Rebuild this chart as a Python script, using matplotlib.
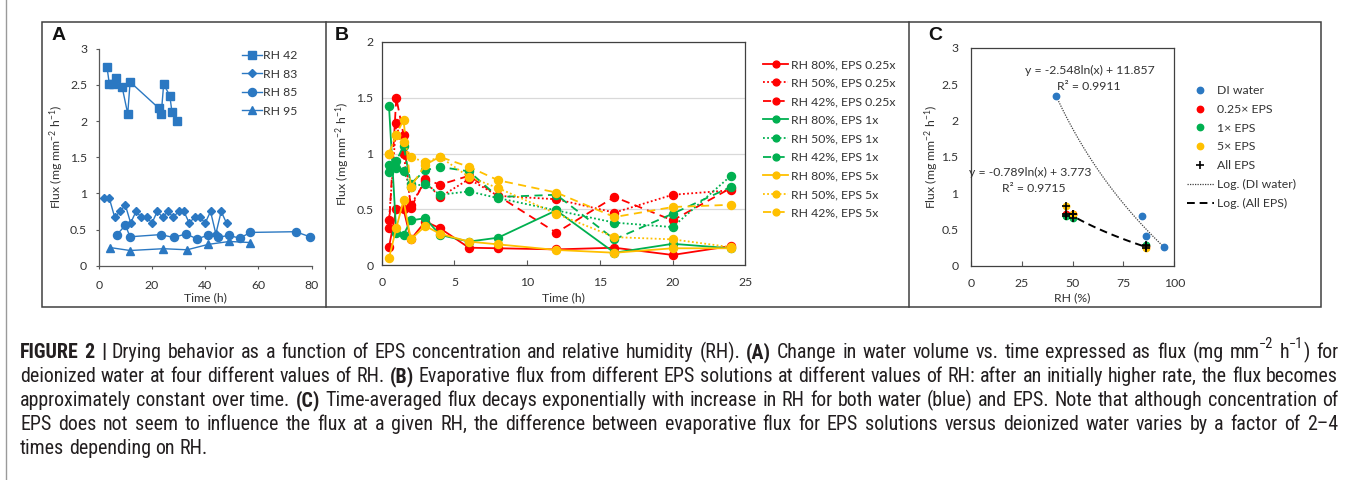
import matplotlib
matplotlib.use('Agg')
import matplotlib.pyplot as plt
from matplotlib import font_manager
from matplotlib.patches import Rectangle
from matplotlib.lines import Line2D
import numpy as np

W, H = 1355, 480

# ---------------- Panel A data (DI water, flux vs time) ----------------
a_rh42_time = [3.1, 4.0, 5.5, 6.4, 8.8, 10.9, 11.8, 22.5, 23.5, 24.4, 26.7, 27.5, 29.4]
a_rh42_flux = [2.75, 2.51, 2.51, 2.59, 2.47, 2.10, 2.54, 2.18, 2.10, 2.51, 2.35, 2.13, 2.00]
a_rh83_time = [2, 4, 6, 8, 10, 12, 14, 16, 18, 20, 22, 24, 26, 28, 30, 32, 34, 36, 38, 40, 42, 44, 46, 48]
a_rh83_flux = [0.93, 0.93, 0.67, 0.75, 0.84, 0.59, 0.75, 0.67, 0.67, 0.59, 0.75, 0.67,
               0.75, 0.67, 0.75, 0.75, 0.59, 0.67, 0.67, 0.59, 0.75, 0.44, 0.75, 0.59]
a_rh85_time = [6.9, 10.0, 11.8, 23.3, 28.1, 32.8, 36.9, 40.9, 44.7, 48.8, 53.0, 56.9, 74.0, 79.3]
a_rh85_flux = [0.43, 0.56, 0.40, 0.43, 0.39, 0.44, 0.37, 0.42, 0.39, 0.42, 0.38, 0.46, 0.47, 0.40]
a_rh95_time = [4.4, 11.8, 24.3, 33.2, 41.2, 49.1, 57.0]
a_rh95_flux = [0.25, 0.21, 0.235, 0.22, 0.295, 0.335, 0.32]
a_labels = ['RH 42', 'RH 83', 'RH 85', 'RH 95']

# ---------------- Panel B data (EPS solutions, flux vs time) ----------------
b_time = [0.5, 1, 1.5, 2, 3, 4, 6, 8, 12, 16, 20, 24]
b_r80 = [0.16, 0.50, 0.50, 0.23, 0.39, 0.33, 0.155, 0.15, 0.14, 0.155, 0.09, 0.17]
b_r50 = [0.40, 1.27, 1.00, 0.54, 0.75, 0.61, 0.77, 0.62, 0.59, 0.47, 0.63, 0.67]
b_r42 = [0.33, 1.50, 1.17, 0.51, 0.77, 0.72, 0.80, 0.62, 0.29, 0.61, 0.40, 0.69]
b_g80 = [1.43, 0.29, 0.27, 0.40, 0.42, 0.27, 0.21, 0.245, 0.49, 0.11, 0.19, 0.15]
b_g50 = [0.83, 0.87, 0.84, 0.70, 0.73, 0.63, 0.66, 0.60, 0.49, 0.38, 0.34, 0.80]
b_g42 = [0.90, 0.93, 1.07, 0.73, 0.85, 0.88, 0.84, 0.61, 0.63, 0.23, 0.46, 0.70]
b_y80 = [0.06, 0.33, 0.58, 0.23, 0.35, 0.28, 0.21, 0.185, 0.135, 0.11, 0.15, 0.15]
b_y50 = [1.00, 1.17, 1.10, 0.97, 0.92, 0.97, 0.79, 0.69, 0.46, 0.25, 0.23, 0.16]
b_y42 = [1.00, 1.17, 1.30, 0.70, 0.90, 0.97, 0.88, 0.76, 0.65, 0.43, 0.52, 0.54]
b_labels = ['RH 80%, EPS 0.25x', 'RH 50%, EPS 0.25x', 'RH 42%, EPS 0.25x',
            'RH 80%, EPS 1x', 'RH 50%, EPS 1x', 'RH 42%, EPS 1x',
            'RH 80%, EPS 5x', 'RH 50%, EPS 5x', 'RH 42%, EPS 5x']

# ---------------- Panel C data (time-averaged flux vs RH) ----------------
c_di_rh = [42.1, 84.2, 86.3, 94.9]
c_di_flux = [2.33, 0.69, 0.41, 0.26]
c_e025_rh = [46.9, 50.2, 86.3]
c_e025_flux = [0.71, 0.71, 0.27]
c_e1_rh = [46.9, 50.2, 86.3]
c_e1_flux = [0.69, 0.66, 0.285]
c_e5_rh = [46.9, 50.2, 86.3]
c_e5_flux = [0.825, 0.71, 0.25]
c_fit_di = (-2.548, 11.857)     # y = a ln(x) + b, from chart annotation
c_fit_eps = (-0.789, 3.773)
c_labels = ['DI water', '0.25\u00d7 EPS', '1\u00d7 EPS', '5\u00d7 EPS', 'All EPS',
            'Log. (DI water)', 'Log. (All EPS)']

# ---------------- styling ----------------
BLUE = '#2B78C2'
RED = '#FF0000'
GREEN = '#00B050'
YELLOW = '#FFC000'
TXT = '#333333'
CAPC = '#231F20'
FRAME = '#404040'


def have(name):
    try:
        font_manager.findfont(font_manager.FontProperties(family=name), fallback_to_default=False)
        return True
    except Exception:
        return False


CHART_FONT = 'Lato' if have('Lato') else 'DejaVu Sans'
CAP_FONT = next(f for f in ['Liberation Sans Narrow', 'Roboto Condensed', 'Liberation Sans', 'DejaVu Sans'] if have(f))

plt.rcParams['font.family'] = [CHART_FONT, 'DejaVu Sans']
plt.rcParams['mathtext.fontset'] = 'custom'
plt.rcParams['mathtext.rm'] = CHART_FONT
plt.rcParams['mathtext.it'] = CHART_FONT
plt.rcParams['mathtext.bf'] = CHART_FONT
plt.rcParams['axes.unicode_minus'] = False

FS = 8.8

fig = plt.figure(figsize=(W / 100, H / 100), dpi=100)


def fx(x):
    return x / W


def fy(y):
    return 1 - y / H


def axes_px(l, t, r, b):
    return fig.add_axes([fx(l), fy(b), (r - l) / W, (b - t) / H])


YLAB = 'Flux (mg mm$^{-2}$ h$^{-1}$)'

# outer frames
fig.add_artist(Rectangle((fx(42), fy(307)), (1321 - 42) / W, (307 - 22) / H, transform=fig.transFigure,
                         fill=False, edgecolor=FRAME, lw=1.1))
for xd in (326, 909):
    fig.add_artist(Line2D([fx(xd), fx(xd)], [fy(22), fy(307)], transform=fig.transFigure, color=FRAME, lw=1.1))
fig.add_artist(Line2D([fx(6), fx(6)], [0, 1], transform=fig.transFigure, color='#9A9A9A', lw=1.0))

for letter, xl in (('A', 59), ('B', 342), ('C', 935)):
    fig.text(fx(xl), fy(35), letter, ha='center', va='center', fontsize=14, fontweight='bold',
             family='Liberation Sans', color='#111111')

# ---------------- Panel A ----------------
axA = axes_px(98.7, 48.7, 311.7, 265.7)
axA.plot(a_rh42_time, a_rh42_flux, '-s', color=BLUE, ms=5.5, lw=1.0, label=a_labels[0], clip_on=False)
axA.plot(a_rh83_time, a_rh83_flux, '-D', color=BLUE, ms=3.8, lw=1.0, label=a_labels[1], clip_on=False)
axA.plot(a_rh85_time, a_rh85_flux, '-o', color=BLUE, ms=5.8, lw=1.0, label=a_labels[2], clip_on=False)
axA.plot(a_rh95_time, a_rh95_flux, '-^', color=BLUE, ms=5.2, lw=1.0, label=a_labels[3], clip_on=False)
axA.set_xlim(0, 80)
axA.set_ylim(0, 3)
axA.set_xticks([0, 20, 40, 60, 80])
axA.set_yticks([0, 0.5, 1, 1.5, 2, 2.5, 3])
axA.set_yticklabels(['0', '0.5', '1', '1.5', '2', '2.5', '3'])
for s in ('top', 'right'):
    axA.spines[s].set_visible(False)
for s in ('left', 'bottom'):
    axA.spines[s].set_color('#595959')
    axA.spines[s].set_linewidth(0.9)
axA.tick_params(axis='y', direction='out', length=2.5, width=0.8, color='#595959', pad=5.8, labelsize=FS, labelcolor=TXT)
axA.tick_params(axis='x', direction='out', length=2.5, width=0.8, color='#595959', pad=7.5, labelsize=FS, labelcolor=TXT)
axA.patch.set_alpha(0)
axA.legend(loc='upper left', bbox_to_anchor=(fx(242), fy(50)), bbox_transform=fig.transFigure,
           frameon=False, fontsize=FS, handlelength=1.6, handletextpad=0.15, labelspacing=0.62,
           borderpad=0, borderaxespad=0, numpoints=1, labelcolor=TXT)
fig.text(fx(205.5), fy(298), 'Time (h)', ha='center', va='center', fontsize=FS, color=TXT)
fig.text(fx(57.3), fy(157), YLAB, ha='center', va='center', rotation=90, fontsize=FS, color=TXT)

# ---------------- Panel B ----------------
axB = axes_px(381.7, 42, 745.4, 265)
DOT = (0, (1, 1.3))
DASH = (0, (4.5, 3))
b_series = [b_r80, b_r50, b_r42, b_g80, b_g50, b_g42, b_y80, b_y50, b_y42]
b_colors = [RED, RED, RED, GREEN, GREEN, GREEN, YELLOW, YELLOW, YELLOW]
b_styles = ['-', DOT, DASH] * 3
for vals, col, ls, lab in zip(b_series, b_colors, b_styles, b_labels):
    axB.plot(b_time, vals, color=col, linestyle=ls, lw=1.3, marker='o', ms=5.8, label=lab, clip_on=False)
axB.set_xlim(0, 25)
axB.set_ylim(0, 2)
axB.set_xticks([0, 5, 10, 15, 20, 25])
axB.set_yticks([0, 0.5, 1, 1.5, 2])
axB.set_yticklabels(['0', '0.5', '1', '1.5', '2'])
axB.yaxis.grid(True, color='#D9D9D9', lw=0.9)
axB.set_axisbelow(True)
for s in axB.spines.values():
    s.set_color(FRAME)
    s.set_linewidth(0.9)
axB.tick_params(axis='y', length=0, pad=6.0, labelsize=FS, labelcolor=TXT)
axB.tick_params(axis='x', direction='in', length=3.5, width=0.8, color='#595959', pad=9.0, labelsize=FS, labelcolor=TXT)
axB.legend(loc='upper left', bbox_to_anchor=(fx(762.7), fy(59)), bbox_transform=fig.transFigure,
           frameon=False, fontsize=FS, handlelength=2.1, handletextpad=0.2, labelspacing=0.62,
           borderpad=0, borderaxespad=0, numpoints=1, labelcolor=TXT, markerscale=0.85)
fig.text(fx(563.5), fy(298), 'Time (h)', ha='center', va='center', fontsize=FS, color=TXT)
fig.text(fx(343.3), fy(153.5), YLAB, ha='center', va='center', rotation=90, fontsize=FS, color=TXT)

# ---------------- Panel C ----------------
axC = axes_px(970.7, 47.7, 1174.3, 265.7)
axC.plot(c_di_rh, c_di_flux, 'o', color=BLUE, ms=4.6, label=c_labels[0], zorder=3)
axC.plot(c_e025_rh, c_e025_flux, 'o', color=RED, ms=4.6, label=c_labels[1], zorder=3)
axC.plot(c_e1_rh, c_e1_flux, 'o', color=GREEN, ms=4.6, label=c_labels[2], zorder=3)
axC.plot(c_e5_rh, c_e5_flux, 'o', color=YELLOW, ms=4.6, label=c_labels[3], zorder=3)
all_rh = np.array(c_e025_rh + c_e1_rh + c_e5_rh)
all_flux = np.array(c_e025_flux + c_e1_flux + c_e5_flux)
axC.plot(all_rh, all_flux, '+', color='black', ms=6, mew=1.2, label=c_labels[4], zorder=4)
xd = np.linspace(min(c_di_rh), max(c_di_rh), 100)
axC.plot(xd, c_fit_di[0] * np.log(xd) + c_fit_di[1], color='#404040', lw=0.9, linestyle=(0, (1, 1)),
         label=c_labels[5], zorder=2)
xe = np.linspace(all_rh.min(), all_rh.max(), 100)
axC.plot(xe, c_fit_eps[0] * np.log(xe) + c_fit_eps[1], color='black', lw=1.4, linestyle=(0, (4, 2.5)),
         label=c_labels[6], zorder=2)
axC.set_xlim(0, 100)
axC.set_ylim(0, 3)
axC.set_xticks([0, 25, 50, 75, 100])
axC.set_yticks([0, 0.5, 1, 1.5, 2, 2.5, 3])
axC.set_yticklabels(['0', '0.5', '1', '1.5', '2', '2.5', '3'])
for s in axC.spines.values():
    s.set_color(FRAME)
    s.set_linewidth(0.9)
axC.tick_params(axis='y', length=0, pad=8.9, labelsize=FS, labelcolor=TXT)
axC.tick_params(axis='x', direction='in', length=3.5, width=0.8, color='#595959', pad=9.0, labelsize=FS, labelcolor=TXT)
axC.legend(loc='upper left', bbox_to_anchor=(fx(1186.7), fy(85)), bbox_transform=fig.transFigure,
           frameon=False, fontsize=FS, handlelength=2.2, handletextpad=0.28, labelspacing=0.64,
           borderpad=0, borderaxespad=0, numpoints=1, labelcolor=TXT)
fig.text(fx(1089.5), fy(70), 'y = -2.548ln(x) + 11.857', ha='center', va='center', fontsize=FS, color=TXT)
fig.text(fx(1088.7), fy(86), 'R\u00b2 = 0.9911', ha='center', va='center', fontsize=FS, color=TXT)
fig.text(fx(1029.7), fy(172.7), 'y = -0.789ln(x) + 3.773', ha='center', va='center', fontsize=FS, color=TXT)
fig.text(fx(1034), fy(188.3), 'R\u00b2 = 0.9715', ha='center', va='center', fontsize=FS, color=TXT)
fig.text(fx(1072.5), fy(298), 'RH (%)', ha='center', va='center', fontsize=FS, color=TXT)
fig.text(fx(931.7), fy(157), YLAB, ha='center', va='center', rotation=90, fontsize=FS, color=TXT)

# ---------------- Caption (justified) ----------------
def words(s, style='n'):
    return [[(w, style)] for w in s.split()]


cap_lines = [
    words('FIGURE 2 |', 'b') + words('Drying behavior as a function of EPS concentration and relative humidity (RH).')
    + words('(A)', 'b') + words('Change in water volume vs. time expressed as flux (mg')
    + [[('mm', 'n'), ('\u22122', 's')], [('h', 'n'), ('\u22121', 's'), (')', 'n')]] + words('for'),
    words('deionized water at four different values of RH.') + words('(B)', 'b')
    + words('Evaporative flux from different EPS solutions at different values of RH: after an initially higher rate, the flux becomes'),
    words('approximately constant over time.') + words('(C)', 'b')
    + words('Time-averaged flux decays exponentially with increase in RH for both water (blue) and EPS. Note that although concentration of'),
    words('EPS does not seem to influence the flux at a given RH, the difference between evaporative flux for EPS solutions versus deionized water varies by a factor of 2\u20134'),
    words('times depending on RH.'),
]
justify = [True, True, True, True, False]
CAP_X0, CAP_X1 = 20, 1338
cap_base = [358, 382, 406, 430, 454]

renderer = fig.canvas.get_renderer()


def piece_width(text, style, size):
    t = fig.text(0, 0, text, fontsize=size * (0.72 if style == 's' else 1.0),
                 fontweight='bold' if style == 'b' else 'normal', family=[CAP_FONT, 'DejaVu Sans'])
    w = t.get_window_extent(renderer=renderer).width
    t.remove()
    return w


def word_width(word, size):
    return sum(piece_width(tx, st, size) for tx, st in word)


def natural_width(line, size):
    sp = piece_width('a a', 'n', size) - piece_width('aa', 'n', size)
    return sum(word_width(w, size) for w in line) + sp * (len(line) - 1)


cap_size = 13.0
nw = max(natural_width(l, cap_size) for l in cap_lines[:4])
cap_size = max(10.0, min(17.0, cap_size * (CAP_X1 - CAP_X0) * 0.995 / nw))
space_w = piece_width('a a', 'n', cap_size) - piece_width('aa', 'n', cap_size)

for line, just, yb in zip(cap_lines, justify, cap_base):
    ws = [word_width(w, cap_size) for w in line]
    gap = (CAP_X1 - CAP_X0 - sum(ws)) / (len(line) - 1) if just else space_w
    x = CAP_X0
    for w, wdt in zip(line, ws):
        xx = x
        for tx, st in w:
            size = cap_size * (0.72 if st == 's' else 1.0)
            yy = yb - (cap_size * 0.5 / 0.72 if st == 's' else 0)
            t = fig.text(fx(xx), fy(yy), tx, fontsize=size, fontweight='bold' if st == 'b' else 'normal',
                         family=[CAP_FONT, 'DejaVu Sans'], va='baseline', ha='left', color=CAPC)
            xx += t.get_window_extent(renderer=renderer).width
        x += wdt + gap

fig.savefig('out.png', dpi=100)
